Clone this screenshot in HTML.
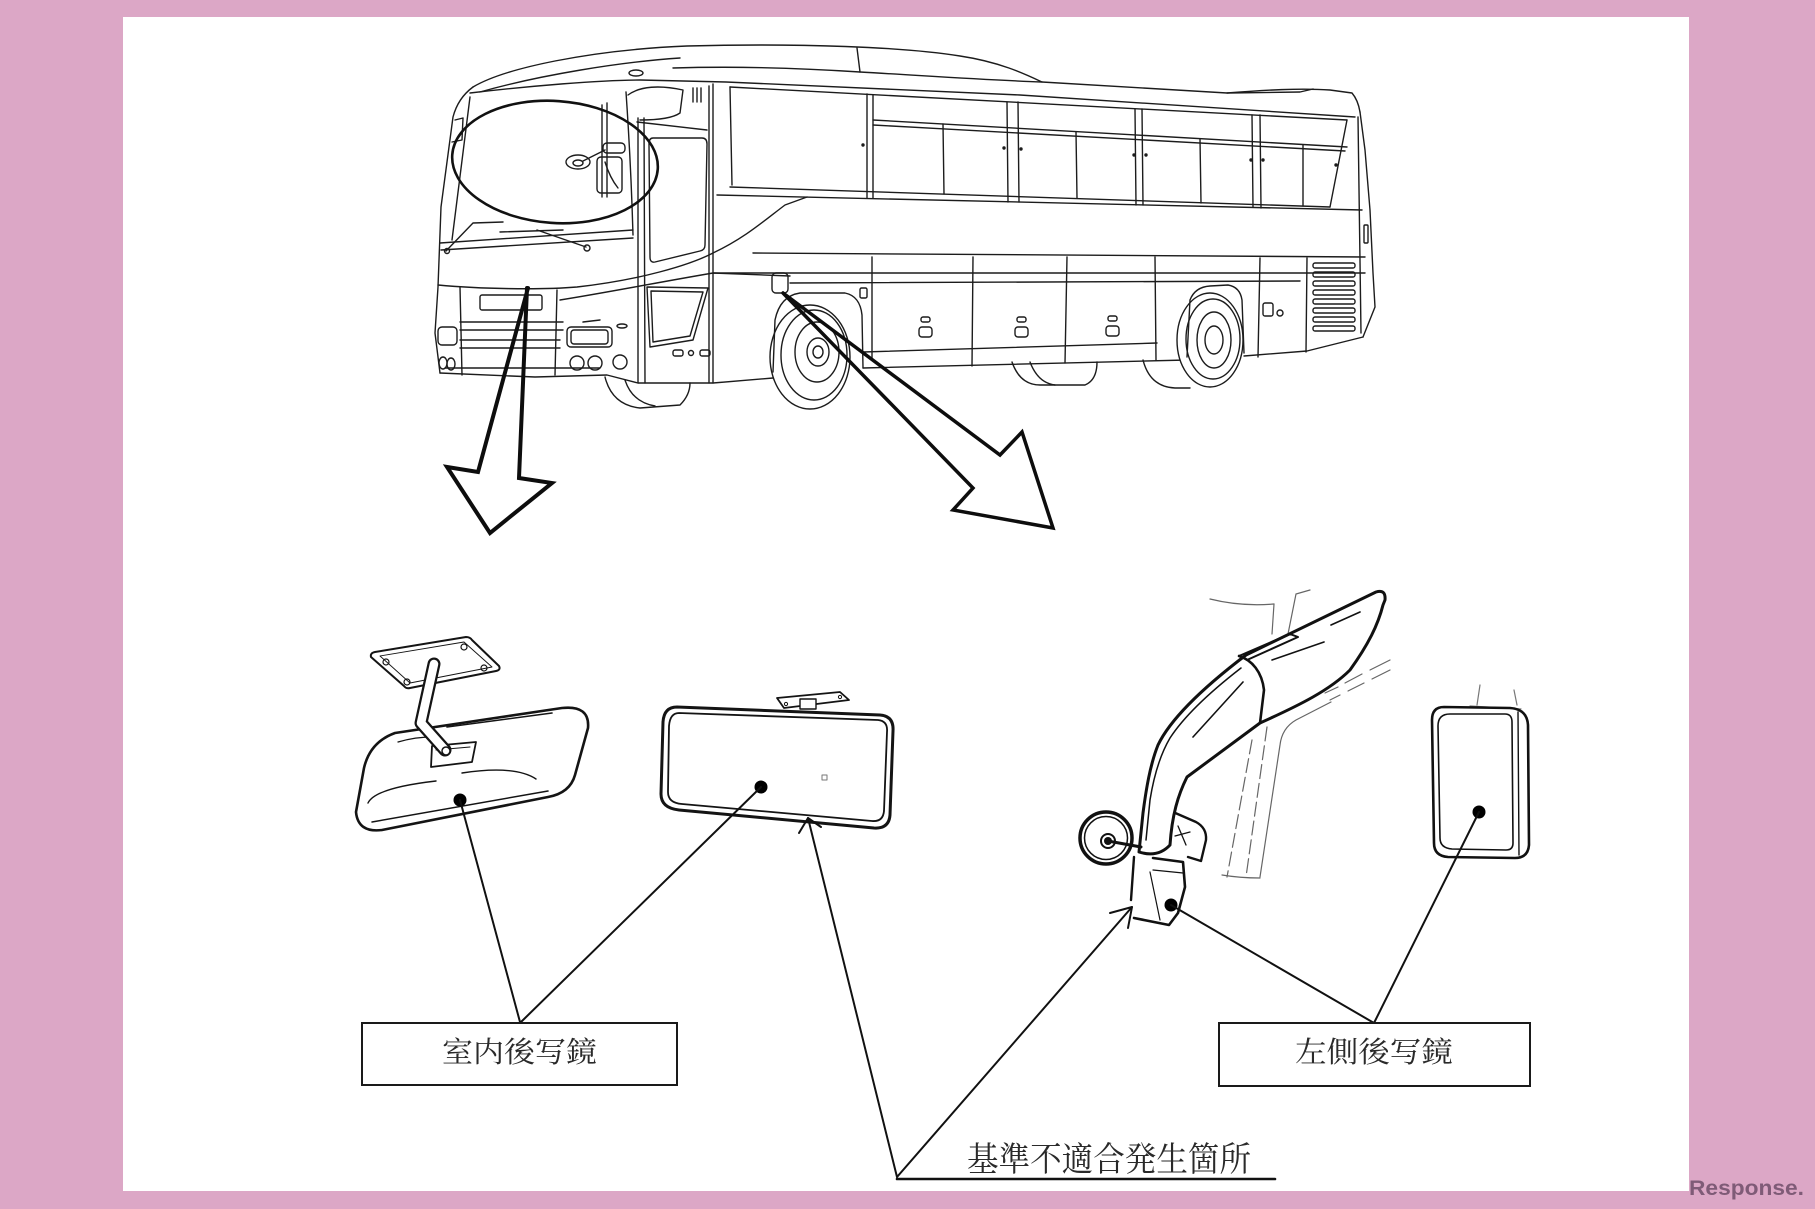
<!DOCTYPE html>
<html>
<head>
<meta charset="utf-8">
<style>
html,body{margin:0;padding:0;background:#dca7c6;}
svg{display:block;}
</style>
</head>
<body>
<svg width="1815" height="1209" viewBox="0 0 1815 1209" xmlns="http://www.w3.org/2000/svg">
<rect x="0" y="0" width="1815" height="1209" fill="#dca7c6"/>
<rect x="123" y="17" width="1566" height="1174" fill="#ffffff"/>

<!-- ================= BUS ================= -->
<g fill="none" stroke="#1c1c1c" stroke-width="1.4" stroke-linejoin="round" stroke-linecap="round">
  <!-- roof -->
  <path d="M473,87 C505,68 590,50 687,46 C800,43 905,47 960,56 C1000,62 1025,74 1042,82 L1227,93 C1265,90 1300,88 1330,90 L1352,93 Q1358,100 1360,112"/>
  <path d="M673,68 C740,66 800,68 860,72 C930,76 985,80 1042,82"/>
  <path d="M480,92 C540,75 620,62 680,58"/>
  <path d="M857,48 L860,72"/>
  <path d="M470,93 C530,86 600,80 640,80 L726,82 L1020,95 L1355,117"/>
  <path d="M1227,93 L1300,92 L1313,89"/>
  <ellipse cx="636" cy="73" rx="7" ry="3"/>
  <path d="M693,88 L693,102 M697,88 L697,102 M701,88 L701,102"/>
  <!-- front left edge -->
  <path d="M473,87 Q458,98 453,117 L441,207 L438,287 L435,333 L440,373"/>
  <path d="M470,97 L452,240"/>
  <path d="M455,120 L463,118 L462,140 L452,142"/>
  <!-- windshield bottom -->
  <path d="M440,243 L633,230"/>
  <path d="M441,250 L633,238"/>
  <!-- wipers -->
  <path d="M446,251 L473,223 L503,222"/>
  <circle cx="447" cy="251" r="2.5"/>
  <path d="M500,232 L563,230"/>
  <path d="M537,230 L586,247"/>
  <circle cx="587" cy="248" r="3"/>
  <!-- A pillar / door frames -->
  <path d="M602,105 L602,197"/>
  <path d="M607,103 L607,197"/>
  <path d="M626,92 C630,150 632,200 633,235"/>
  <path d="M638,118 L638,383"/>
  <path d="M644,118 L645,383"/>
  <path d="M709,86 L709,383"/>
  <path d="M713,84 L713,383"/>
  <path d="M637,122 L707,130"/>
  <!-- visor box -->
  <path d="M628,95 C640,86 660,85 683,90 L680,113 Q670,120 640,120"/>
  <!-- interior mirror in ellipse -->
  <ellipse cx="578" cy="162" rx="12" ry="7"/>
  <ellipse cx="578" cy="163" rx="5" ry="3"/>
  <path d="M583,161 L605,150"/>
  <rect x="603" y="143" width="22" height="10" rx="4"/>
  <rect x="597" y="157" width="25" height="36" rx="4"/>
  <path d="M605,162 Q610,178 618,188"/>
  <!-- door window -->
  <path d="M653,138 L702,138 Q707,138 707,144 L705,245 Q705,250 700,251 L655,262 Q650,263 650,257 L649,144 Q649,138 653,138 Z"/>
  <!-- sweep curves -->
  <path d="M438,285 C480,289 540,290 577,287 C640,280 690,265 713,253 C745,238 765,220 785,205 L807,197"/>
  <path d="M560,300 C610,292 660,282 713,273 L790,276"/>
  <!-- windows -->
  <path d="M730,87 L1347,120"/>
  <path d="M730,87 L732,185"/>
  <path d="M873,120 L1347,147"/>
  <path d="M873,125 L1345,151"/>
  <path d="M730,187 L1330,207"/>
  <path d="M717,195 L1362,210"/>
  <path d="M867,94 L867,198 M873,95 L873,198"/>
  <path d="M1007,102 L1008,202 M1018,102 L1019,202"/>
  <path d="M1135,109 L1136,205 M1142,109 L1143,205"/>
  <path d="M1252,115 L1253,207 M1260,115 L1261,208"/>
  <path d="M943,124 L944,194 M1076,132 L1077,198 M1200,139 L1201,203 M1303,145 L1303,206"/>
  <path d="M1347,120 L1330,207"/>
  <g fill="#1c1c1c" stroke="none">
    <circle cx="1004" cy="148" r="1.7"/><circle cx="1021" cy="149" r="1.7"/>
    <circle cx="1134" cy="155" r="1.7"/><circle cx="1146" cy="155" r="1.7"/>
    <circle cx="1251" cy="160" r="1.7"/><circle cx="1263" cy="160" r="1.7"/>
    <circle cx="1336" cy="165" r="1.7"/><circle cx="863" cy="145" r="1.7"/>
  </g>
  <!-- lower body lines -->
  <path d="M753,253 L1365,257"/>
  <path d="M713,273 L1365,273"/>
  <path d="M790,283 L1300,281"/>
  <path d="M863,352 L1157,343"/>
  <path d="M863,368 L1187,360"/>
  <path d="M1244,356 L1307,351 L1363,337"/>
  <path d="M872,257 L872,360 M973,257 L972,366 M1067,257 L1065,363 M1155,257 L1156,360 M1260,258 L1258,357 M1307,258 L1306,352"/>
  <!-- rear end -->
  <path d="M1360,112 L1365,150 L1370,210 L1373,273 L1375,307 L1363,337"/>
  <path d="M1358,117 L1361,333"/>
  <rect x="1364" y="225" width="4" height="18" rx="1"/>
  <g>
    <rect x="1313" y="263" width="42" height="5" rx="2"/>
    <rect x="1313" y="272" width="42" height="5" rx="2"/>
    <rect x="1313" y="281" width="42" height="5" rx="2"/>
    <rect x="1313" y="290" width="42" height="5" rx="2"/>
    <rect x="1313" y="299" width="42" height="5" rx="2"/>
    <rect x="1313" y="308" width="42" height="5" rx="2"/>
    <rect x="1313" y="317" width="42" height="5" rx="2"/>
    <rect x="1313" y="326" width="42" height="5" rx="2"/>
  </g>
  <rect x="1263" y="303" width="10" height="13" rx="2"/>
  <circle cx="1280" cy="313" r="3"/>
  <!-- handles -->
  <rect x="921" y="317" width="9" height="5" rx="2"/><rect x="919" y="327" width="13" height="10" rx="3"/>
  <rect x="1017" y="317" width="9" height="5" rx="2"/><rect x="1015" y="327" width="13" height="10" rx="3"/>
  <rect x="1108" y="316" width="9" height="5" rx="2"/><rect x="1106" y="326" width="13" height="10" rx="3"/>
  <!-- fuel cap etc -->
  <rect x="772" y="273" width="16" height="20" rx="4"/>
  <rect x="860" y="288" width="7" height="10" rx="1.5"/>
  <!-- lower door window -->
  <path d="M647,287 L708,288 L693,340 L650,347 Z"/>
  <path d="M651,291 L703,292 L690,336 L653,342 Z"/>
  <rect x="673" y="350" width="10" height="6" rx="2"/>
  <circle cx="691" cy="353" r="2.5"/>
  <rect x="700" y="350" width="10" height="6" rx="2"/>
  <!-- front bottom & grille -->
  <path d="M440,373 L535,377 L607,375 L638,383 L713,383 L773,378"/>
  <path d="M445,368 L600,368"/>
  <path d="M460,287 L462,375"/>
  <path d="M557,290 L555,375"/>
  <rect x="480" y="295" width="62" height="15" rx="2"/>
  <path d="M460,322 L563,322 M460,330 L563,330 M460,340 L560,340 M460,348 L560,348"/>
  <rect x="438" y="327" width="19" height="18" rx="4"/>
  <rect x="567" y="327" width="45" height="20" rx="4"/>
  <rect x="571" y="330" width="37" height="14" rx="3"/>
  <ellipse cx="622" cy="326" rx="5" ry="2"/>
  <circle cx="577" cy="363" r="7"/><circle cx="595" cy="363" r="7"/><circle cx="620" cy="362" r="7"/>
  <ellipse cx="443" cy="363" rx="4" ry="6"/><ellipse cx="451" cy="364" rx="4" ry="6"/>
  <path d="M583,322 L600,320"/>
  <!-- hidden front-left wheel -->
  <path d="M605,377 Q612,405 640,408 L680,405 Q690,395 690,383"/>
  <path d="M625,380 Q632,402 655,406"/>
  <!-- front wheel -->
  <ellipse cx="810" cy="357" rx="40" ry="52" fill="#fff"/>
  <ellipse cx="814" cy="355" rx="33" ry="45"/>
  <ellipse cx="817" cy="352" rx="22" ry="30"/>
  <ellipse cx="818" cy="352" rx="11" ry="14"/>
  <ellipse cx="818" cy="352" rx="5" ry="6"/>
  <path d="M773,372 L775,320 Q780,296 800,293 L845,293 Q860,296 862,315 L863,368"/>
  <!-- middle hidden wheels -->
  <path d="M1012,362 Q1020,385 1040,385 L1085,385 Q1097,380 1097,362"/>
  <path d="M1030,362 Q1038,383 1055,385"/>
  <path d="M1143,360 Q1150,387 1175,388 L1190,388"/>
  <!-- rear wheel -->
  <ellipse cx="1210" cy="340" rx="33" ry="47" fill="#fff"/>
  <ellipse cx="1213" cy="339" rx="27" ry="40"/>
  <ellipse cx="1214" cy="340" rx="17" ry="28"/>
  <ellipse cx="1214" cy="340" rx="9" ry="14"/>
  <path d="M1187,357 L1190,300 Q1195,287 1210,286 L1228,285 Q1240,287 1242,300 L1244,353"/>
</g>

<!-- ellipse highlight -->
<ellipse cx="555" cy="162" rx="103" ry="61" transform="rotate(4 555 162)" fill="none" stroke="#111" stroke-width="2.6"/>

<!-- big arrows -->
<g fill="none" stroke="#0d0d0d" stroke-linejoin="miter" stroke-linecap="round">
  <path d="M528,288 L478,472 L447,467 L490,533 L552,483 L519,478 L527,288" stroke-width="4"/>
  <path d="M783,293 L1000,455 L1022,432 L1053,528 L953,510 L973,488 L783,293" stroke-width="3.5"/>
</g>

<!-- ================= INTERIOR MIRROR 1 ================= -->
<g fill="none" stroke="#141414" stroke-linejoin="round" stroke-linecap="round">
  <path d="M395,733 L562,708 Q590,705 588,728 L575,775 Q570,793 548,797 L382,830 Q358,833 356,812 L364,768 Q370,742 395,733 Z" fill="#fff" stroke-width="2.6"/>
  <path d="M372,822 L548,791" stroke-width="1.5"/>
  <path d="M368,803 Q375,788 436,781" stroke-width="1.4"/>
  <path d="M462,773 Q515,765 536,779" stroke-width="1.4"/>
  <path d="M447,727 L552,713" stroke-width="1.5"/>
  <path d="M398,742 Q418,736 440,737" stroke-width="1.3"/>
  <path d="M432,746 L476,742 L472,762 L431,767 Z" fill="#fff" stroke-width="1.8"/>
  <path d="M436,750 L470,747" stroke-width="1"/>
  <!-- plate -->
  <path d="M375,652 L466,637 Q470,637 472,640 L499,666 Q501,670 496,671 L410,688 Q406,689 404,686 L371,657 Q370,653 375,652 Z" fill="#fff" stroke-width="2"/>
  <path d="M380,656 L464,642 L492,667 L410,683 Z" stroke-width="0.9"/>
  <circle cx="386" cy="662" r="3" stroke-width="1.2"/>
  <circle cx="464" cy="647" r="3" stroke-width="1.2"/>
  <circle cx="484" cy="668" r="3" stroke-width="1.2"/>
  <circle cx="407" cy="682" r="3" stroke-width="1.2"/>
  <!-- tube -->
  <path d="M434,664 L421,723 L445,750" stroke-width="13"/>
  <path d="M434,664 L421,723 L445,750" stroke="#fff" stroke-width="8.5"/>
  <circle cx="446" cy="751" r="4" fill="#fff" stroke-width="1.5"/>
</g>
<circle cx="460" cy="800" r="6.5" fill="#000"/>

<!-- ================= INTERIOR MIRROR 2 ================= -->
<g fill="none" stroke="#141414" stroke-linejoin="round" stroke-linecap="round">
  <path d="M777,698 L840,692 L849,700 L784,708 Z" fill="#fff" stroke-width="1.8"/>
  <circle cx="786" cy="704" r="1.6" stroke-width="1"/>
  <circle cx="840" cy="697" r="1.6" stroke-width="1"/>
  <rect x="800" y="699" width="16" height="10" fill="#fff" stroke-width="1.4"/>
  <path d="M677,707 L880,715 Q894,716 893,731 L890,815 Q889,829 874,828 L679,810 Q661,808 661,794 L663,722 Q664,707 677,707 Z" fill="#fff" stroke-width="3"/>
  <path d="M679,713 L878,720 Q888,721 887,732 L884,811 Q883,822 872,821 L682,804 Q668,803 668,792 L669,726 Q670,713 679,713 Z" stroke-width="1.8"/>
  <rect x="822" y="775" width="5" height="5" stroke="#777" stroke-width="1"/>
</g>
<circle cx="761" cy="787" r="6.5" fill="#000"/>

<!-- ================= SIDE MIRROR ================= -->
<g fill="none" stroke="#666" stroke-width="1.2" stroke-linecap="round">
  <path d="M1210,599 C1230,604 1250,606 1274,604"/>
  <path d="M1274,604 L1272,634"/>
  <path d="M1310,590 L1296,594 L1288,634"/>
  <path d="M1390,660 L1370,670 M1362,674 L1345,683 M1338,687 L1325,693"/>
  <path d="M1390,670 L1372,679 M1364,683 L1348,691 M1340,695 L1330,700"/>
  <path d="M1331,702 L1296,720 Q1282,728 1280,745 L1260,877"/>
  <path d="M1267,727 L1246,877" stroke-dasharray="14 5"/>
  <path d="M1252,740 L1227,877" stroke-dasharray="14 5"/>
  <path d="M1222,875 Q1240,878 1260,878"/>
</g>
<g fill="none" stroke="#111" stroke-linejoin="round" stroke-linecap="round">
  <!-- bracket right -->
  <path d="M1173,812 L1196,822 Q1207,828 1206,840 L1201,861 L1188,857" fill="#fff" stroke-width="2.4"/>
  <path d="M1175,836 L1190,832 M1178,826 L1186,845" stroke-width="1.3"/>
  <!-- arm -->
  <path d="M1139,852 L1143,813 C1146,790 1150,765 1158,745 C1170,720 1200,690 1246,655 L1376,592 Q1386,589 1385,600 L1383,605 C1378,625 1368,645 1350,670 C1330,690 1300,705 1260,723 L1187,777 C1178,795 1172,815 1170,845 Q1158,858 1139,852 Z" fill="#fff" stroke-width="3"/>
  <path d="M1146,840 L1150,800 C1154,775 1160,755 1170,738 C1185,715 1210,692 1241,668" stroke-width="1.5"/>
  <path d="M1239,656 C1252,660 1262,672 1264,690 L1260,723" stroke-width="2.6"/>
  <path d="M1239,656 L1290,634 L1298,637 L1247,660" stroke-width="2"/>
  <path d="M1272,660 L1324,642 M1331,625 L1360,612 M1193,737 L1243,682" stroke-width="1.6"/>
  <!-- housing -->
  <path d="M1134,857 L1131,900" stroke-width="2.4"/>
  <path d="M1153,858 L1183,862 L1185,887 L1178,913 L1169,925 L1134,918" fill="#fff" stroke-width="2.6"/>
  <path d="M1153,870 L1183,873" stroke-width="1.2"/>
  <path d="M1150,872 L1160,920" stroke-width="1.2"/>
  <!-- round mirror -->
  <circle cx="1106" cy="838" r="26" fill="#fff" stroke-width="3.5"/>
  <circle cx="1106" cy="838" r="21.5" stroke-width="1.5"/>
  <path d="M1108,841 L1141,847" stroke-width="3"/>
  <circle cx="1108" cy="841" r="7" stroke-width="2"/>
  <circle cx="1108" cy="841" r="4" fill="#111" stroke="none"/>
  <!-- rear view side mirror -->
  <path d="M1480,685 L1477,705 M1514,690 L1517,705 M1470,706 L1521,709" stroke="#777" stroke-width="1.2"/>
  <path d="M1444,707 L1510,708 Q1527,709 1528,725 L1529,845 Q1528,858 1515,858 L1448,857 Q1434,856 1434,843 L1432,720 Q1432,707 1444,707 Z" fill="#fff" stroke-width="2.6"/>
  <path d="M1450,714 L1505,714 Q1512,714 1512,722 L1513,843 Q1513,850 1506,850 L1452,849 Q1440,848 1440,838 L1438,726 Q1438,714 1450,714 Z" stroke-width="1.6"/>
  <path d="M1518,712 L1519,855" stroke-width="1.4"/>
</g>
<circle cx="1171" cy="905" r="6.5" fill="#000"/>
<circle cx="1479" cy="812" r="6.5" fill="#000"/>

<!-- ================= LEADER LINES ================= -->
<g fill="none" stroke="#111" stroke-width="2" stroke-linecap="round" stroke-linejoin="round">
  <path d="M460,800 L520,1022"/>
  <path d="M761,787 L521,1022"/>
  <path d="M808,818 L897,1177"/>
  <path d="M799,833 L808,818 L821,827"/>
  <path d="M1132,907 L897,1177"/>
  <path d="M1110,913 L1132,907 L1128,928"/>
  <path d="M1171,905 L1374,1023"/>
  <path d="M1479,812 L1374,1023"/>
  <path d="M897,1179 L1275,1179" stroke-width="2.6"/>
</g>

<!-- ================= LABELS ================= -->
<rect x="362" y="1023" width="315" height="62" fill="#fff" stroke="#1a1a1a" stroke-width="2"/>
<rect x="1219" y="1023" width="311" height="63" fill="#fff" stroke="#1a1a1a" stroke-width="2"/>
<g font-family="'Liberation Serif','Noto Serif CJK SC','Noto Serif CJK JP',serif" fill="#2a2a2a">
  <text x="519.5" y="1062" font-size="29" text-anchor="middle" textLength="155" lengthAdjust="spacingAndGlyphs">室内後写鏡</text>
  <text x="1374" y="1062" font-size="29" text-anchor="middle" textLength="158" lengthAdjust="spacingAndGlyphs">左側後写鏡</text>
  <text x="1109" y="1171" font-size="34" text-anchor="middle" textLength="284" lengthAdjust="spacingAndGlyphs">基準不適合発生箇所</text>
</g>

<!-- watermark -->
<text x="1689" y="1195" font-family="'Liberation Sans',sans-serif" font-size="21" font-weight="bold" fill="#7f5b77" textLength="115" lengthAdjust="spacingAndGlyphs">Response.</text>
</svg>
</body>
</html>
